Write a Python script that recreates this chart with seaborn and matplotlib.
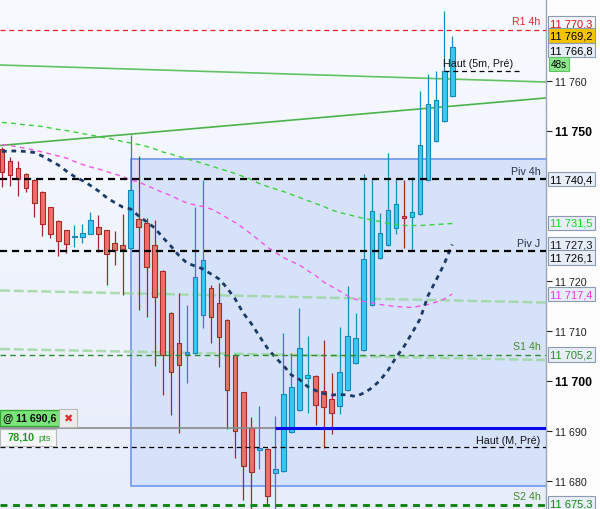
import numpy as np
import pandas as pd
import matplotlib
matplotlib.use("Agg")
import matplotlib.pyplot as plt
import matplotlib.transforms as mtransforms
from matplotlib.patches import Rectangle
from matplotlib.colors import LinearSegmentedColormap
import seaborn as sns

# ---------------- data ----------------
opens = [11746.4, 11744.1, 11742.7, 11741.5, 11740.2, 11737.9, 11734.7, 11732.1, 11730.1, 11728.9,
         11728.9, 11729.5, 11730.7, 11730.1, 11727.7, 11727.1, 11726.7, 11732.5, 11731.7, 11727.3,
         11722.1, 11713.7, 11707.7, 11705.5, 11705.7, 11713.3, 11718.7, 11715.7, 11712.3, 11705.3,
         11697.7, 11690.6, 11686.2, 11686.5, 11681.7, 11682.1, 11689.9, 11694.3, 11700.6, 11701.0,
         11698.1, 11696.5, 11695.1, 11698.3, 11703.7, 11706.3, 11715.3, 11724.7, 11727.3, 11730.7,
         11733.1, 11732.9, 11733.5, 11740.3, 11748.0, 11752.1, 11757.1]
closes = [11741.9, 11741.3, 11740.4, 11738.7, 11735.7, 11731.5, 11729.5, 11728.1, 11727.5, 11729.0,
          11729.7, 11732.1, 11729.5, 11725.5, 11726.3, 11726.5, 11738.3, 11730.9, 11722.9, 11716.9,
          11705.3, 11701.9, 11703.3, 11705.9, 11720.9, 11724.3, 11712.9, 11708.9, 11698.3, 11690.1,
          11683.1, 11681.9, 11686.7, 11677.1, 11682.5, 11697.5, 11698.9, 11706.7, 11701.2, 11695.3,
          11694.9, 11693.7, 11701.7, 11709.1, 11708.7, 11724.5, 11734.1, 11729.7, 11734.3, 11735.5,
          11732.7, 11733.9, 11747.3, 11755.5, 11756.1, 11762.1, 11766.8]
highs = [11746.8, 11744.8, 11744.1, 11741.7, 11740.4, 11738.1, 11734.9, 11732.3, 11730.3, 11731.2,
         11731.4, 11733.9, 11733.3, 11730.3, 11730.1, 11733.5, 11749.2, 11745.1, 11732.7, 11732.2,
         11722.3, 11713.9, 11717.7, 11715.2, 11734.9, 11740.3, 11719.3, 11719.7, 11712.5, 11705.5,
         11697.9, 11692.9, 11695.1, 11686.7, 11693.1, 11709.7, 11705.7, 11714.7, 11709.1, 11701.2,
         11708.2, 11701.7, 11710.9, 11719.1, 11713.7, 11741.5, 11740.7, 11733.7, 11745.7, 11740.7,
         11740.3, 11740.9, 11758.1, 11761.5, 11762.0, 11774.0, 11769.0]
lows = [11738.9, 11739.1, 11737.1, 11737.9, 11732.9, 11729.1, 11728.7, 11725.1, 11725.7, 11726.9,
        11727.7, 11729.4, 11725.9, 11719.3, 11723.3, 11717.3, 11726.5, 11714.3, 11712.9, 11703.1,
        11697.3, 11693.3, 11689.7, 11699.7, 11705.5, 11710.7, 11707.7, 11702.9, 11690.5, 11684.7,
        11676.3, 11674.0, 11682.5, 11675.4, 11674.0, 11681.9, 11689.7, 11694.1, 11693.7, 11691.3,
        11686.7, 11689.5, 11693.5, 11698.1, 11703.5, 11706.1, 11715.1, 11724.5, 11727.1, 11729.5,
        11726.7, 11726.1, 11733.3, 11740.1, 11747.8, 11751.9, 11756.9]

ma_navy = [11745.9, 11746.0, 11746.0, 11745.9, 11745.7, 11745.0, 11744.1, 11743.2, 11742.0, 11740.9,
           11740.1, 11739.1, 11738.0, 11736.7, 11735.7, 11734.8, 11734.4, 11733.0, 11731.8, 11730.6,
           11728.7, 11727.0, 11725.1, 11723.6, 11723.0, 11722.4, 11721.4, 11720.4, 11718.6, 11716.4,
           11713.6, 11711.5, 11709.0, 11706.6, 11704.7, 11703.1, 11701.2, 11700.3, 11698.9, 11698.1,
           11697.5, 11697.2, 11697.3, 11697.2, 11696.9, 11697.6, 11698.6, 11700.1, 11702.1, 11704.7,
           11706.9, 11709.6, 11712.4, 11717.1, 11720.2, 11723.4, 11727.3]
ma_magenta = [11747.3, 11747.1, 11746.8, 11746.5, 11746.2, 11745.8, 11745.4, 11745.0, 11744.6, 11743.9,
              11743.3, 11742.8, 11742.4, 11741.9, 11741.4, 11740.9, 11740.2, 11739.8, 11739.1, 11738.4,
              11737.7, 11737.1, 11736.3, 11735.6, 11735.2, 11734.9, 11734.4, 11733.6, 11732.6, 11731.7,
              11730.6, 11729.4, 11728.1, 11726.8, 11725.7, 11724.7, 11723.9, 11723.2, 11722.1, 11721.1,
              11719.8, 11718.9, 11718.0, 11717.0, 11716.3, 11715.9, 11715.6, 11715.3, 11715.1, 11714.9,
              11714.8, 11714.7, 11715.0, 11715.3, 11715.8, 11716.4, 11717.4]
ma_green = [11751.7, 11751.6, 11751.4, 11751.2, 11751.1, 11750.9, 11750.6, 11750.3, 11750.1, 11749.8,
            11749.5, 11749.2, 11748.9, 11748.6, 11748.3, 11747.9, 11747.6, 11747.3, 11746.9, 11746.4,
            11745.8, 11745.4, 11744.9, 11744.4, 11744.0, 11743.5, 11743.0, 11742.5, 11742.0, 11741.5,
            11740.9, 11740.3, 11739.5, 11738.9, 11738.4, 11737.9, 11737.3, 11736.7, 11736.1, 11735.5,
            11734.9, 11734.2, 11733.7, 11733.3, 11732.9, 11732.5, 11732.2, 11731.9, 11731.5, 11731.3,
            11731.1, 11731.1, 11731.1, 11731.2, 11731.3, 11731.4, 11731.5]

# horizontal levels
r1_4h = 11770.3
piv_4h = 11740.4
piv_j = 11726.1
s1_4h = 11705.2
s2_4h = 11675.3
haut_m_pre = 11686.8
haut_5m_pre = 11762.0
prev_value = 11769.2
last_price = 11766.8
entry_price = 11690.6
entry_index = 34
gain_text = "78,10"
gain_unit = "pts"
countdown = "48s"

# trend lines (value at left edge, value at right edge)
trend_upper = [11763.2, 11759.8]
trend_lower = [11747.1, 11756.6]
pale_upper = [11718.1, 11715.7]
pale_lower = [11706.4, 11704.2]

# highlighted zone
box_start_index = 16
box_top = 11744.5
box_bottom = 11679.1

tick_values = [11680, 11690, 11700, 11710, 11720, 11750, 11760]
bold_ticks = [11700, 11750]


def fmt(v, dec=1):
    s = f"{v:,.{dec}f}"
    return s.replace(",", " ").replace(".", ",")


# ---------------- figure ----------------
sns.set_style("white")
plt.rcParams['font.family'] = ['Liberation Sans', 'DejaVu Sans']

fig = plt.figure(figsize=(6, 5.1), dpi=100, facecolor='#fdfdfe')
ax = fig.add_axes([0, 0, 545.5 / 600, 1])
X0, X1 = -0.25, 67.6
Y0, Y1 = 11674.4, 11776.4

# background gradient
grad = np.linspace(0, 1, 256).reshape(-1, 1)
cmap = LinearSegmentedColormap.from_list('bg', ['#e7edfa', '#f8faff'])
ax.imshow(grad, extent=(X0, X1, Y0, Y1), origin='lower', aspect='auto', cmap=cmap, zorder=0)

# zone box
ax.add_patch(Rectangle((box_start_index, box_bottom), X1 - box_start_index + 2, box_top - box_bottom,
                       facecolor='#d6e2fa', edgecolor='#6d98ee', lw=1.2, zorder=1))

# pale green lines & trend lines
ax.plot([X0, X1], pale_upper, color='#9ad69a', lw=1.8, ls=(0, (4, 1.5)), alpha=0.8, zorder=2)
ax.plot([X0, X1], pale_lower, color='#9ad69a', lw=1.8, ls=(0, (4, 1.5)), alpha=0.8, zorder=2)
ax.plot([X0, X1], trend_upper, color='#62c262', lw=1.2, zorder=2)
ax.plot([X0, X1], trend_lower, color='#4cb34c', lw=1.2, zorder=2)

# candles
idx = np.arange(len(opens))
o = np.array(opens); c = np.array(closes); h = np.array(highs); l = np.array(lows)
up = c >= o
ax.vlines(idx[up], l[up], h[up], color='#1a8cbc', lw=0.9, zorder=5)
ax.vlines(idx[~up], l[~up], h[~up], color='#9e2a2a', lw=0.9, zorder=5)
ax.bar(idx[up], (c - o)[up], bottom=o[up], width=0.58, color='#38c9f2',
       edgecolor='#1787b5', lw=0.8, zorder=6)
ax.bar(idx[~up], (o - c)[~up], bottom=c[~up], width=0.58, color='#e8716b',
       edgecolor='#a52a2a', lw=0.8, zorder=6)

# moving averages via seaborn
df = pd.DataFrame({'i': idx, 'navy': ma_navy, 'mag': ma_magenta, 'grn': ma_green})
sns.lineplot(data=df, x='i', y='grn', ax=ax, color='#3ad13a', linewidth=1.0,
             linestyle=(0, (3.5, 3)), zorder=7)
sns.lineplot(data=df, x='i', y='mag', ax=ax, color='#f455e8', linewidth=1.0,
             linestyle=(0, (3.5, 3)), zorder=7)
sns.lineplot(data=df, x='i', y='navy', ax=ax, color='#1d3a66', linewidth=2.0,
             linestyle=(0, (1.7, 1.7)), zorder=7)

# levels
ax.axhline(r1_4h, color='#e82020', lw=0.9, ls=(0, (4, 3)), zorder=8)
ax.axhline(piv_4h, color='black', lw=1.6, ls=(0, (3.2, 2.2)), zorder=8)
ax.axhline(piv_j, color='black', lw=1.6, ls=(0, (3.2, 2.2)), zorder=8)
ax.axhline(s1_4h, color='#2e8b2e', lw=1.0, ls=(0, (4, 3)), zorder=8)
ax.axhline(s2_4h, color='#078007', lw=2.0, ls=(0, (2.5, 2)), zorder=8)
ax.axhline(haut_m_pre, color='black', lw=0.9, ls=(0, (4, 3)), zorder=8)
ax.hlines(haut_5m_pre, 55, 64.3, color='black', lw=0.9, ls=(0, (4, 3)), zorder=8)

# position line
ax.hlines(entry_price, X0, entry_index, color='#8a8a8a', lw=1.2, zorder=8)
ax.hlines(entry_price, entry_index, X1, color='#0808ee', lw=2.2, zorder=8)

ax.set_xlim(X0, X1)
ax.set_ylim(Y0, Y1)
ax.set_xlabel('')
ax.set_ylabel('')
ax.set_xticks([])

# axis on the right
ax.yaxis.tick_right()
ax.set_yticks(tick_values)
ax.set_yticklabels([fmt(v, 0) for v in tick_values])
ax.tick_params(axis='y', direction='out', length=4, width=0.8, colors='#222222', pad=2.5, labelsize=7.7)
for lab, v in zip(ax.get_yticklabels(), tick_values):
    if v in bold_ticks:
        lab.set_fontweight('bold')
        lab.set_fontsize(8.8)
        lab.set_color('black')
for s in ['top', 'left', 'bottom']:
    ax.spines[s].set_visible(False)
ax.spines['right'].set_color('#9aa5b5')
ax.spines['right'].set_linewidth(1.0)

trans = mtransforms.blended_transform_factory(ax.transAxes, ax.transData)


def tag(val, txt, tc, fc, dy=0, ec='#8c9bb0', dx=5, fs=8.0, weight='normal'):
    return ax.annotate(txt, xy=(1, val), xycoords=trans, xytext=(dx, dy), textcoords='offset pixels',
                       ha='left', va='center', fontsize=fs, color=tc, fontweight=weight,
                       annotation_clip=False, zorder=10,
                       bbox=dict(boxstyle='square,pad=0.2', fc=fc, ec=ec, lw=0.8))


tag(r1_4h, fmt(r1_4h), '#e01010', '#f3f6fb', dy=6.5)
tag(prev_value, fmt(prev_value), 'black', '#f5c400', dy=-0.7)
tag(last_price, fmt(last_price), 'black', '#e6edf8', dy=-3)
tag(last_price, countdown, 'black', '#8fe68f', dy=-16.5, ec='#62c262', fs=7.2)
tag(piv_4h, fmt(piv_4h), 'black', '#e8eef8')
tag(ma_green[-1], fmt(ma_green[-1]), '#1fd41f', '#e8eef8', dy=0.5)
tag(ma_navy[-1], fmt(ma_navy[-1]), '#101828', '#e8eef8', dy=0.5)
tag(piv_j, fmt(piv_j), 'black', '#e8eef8', dy=-7)
tag(ma_magenta[-1], fmt(ma_magenta[-1]), '#ee33ee', '#e8eef8')
tag(s1_4h, fmt(s1_4h), '#2e8b2e', '#e8eef8', dy=0.5)
tag(s2_4h, fmt(s2_4h), '#138a13', '#e8eef8', dy=1.5)


def level_label(val, txt, color, dy):
    ax.annotate(txt, xy=(1, val), xycoords=trans, xytext=(-5, dy), textcoords='offset pixels',
                ha='right', va='center', fontsize=7.7, color=color, zorder=9)


level_label(r1_4h, 'R1 4h', '#e02a2a', 8.5)
level_label(piv_4h, 'Piv 4h', '#26304a', 8)
level_label(piv_j, 'Piv J', '#26304a', 7.5)
level_label(s1_4h, 'S1 4h', '#4a8a2a', 9)
level_label(haut_m_pre, 'Haut (M, Pré)', '#111111', 7)
level_label(s2_4h, 'S2 4h', '#4a8a2a', 8.5)
ax.annotate('Haut (5m, Pré)', xy=(55, haut_5m_pre), xycoords='data', xytext=(-1, 8),
            textcoords='offset pixels', ha='left', va='center', fontsize=7.7, color='#111111', zorder=9)

# order labels on the left
at = ax.annotate(f"@ {fmt(entry_price)}", xy=(0, entry_price), xycoords=trans, xytext=(3, 10),
                 textcoords='offset pixels', ha='left', va='center', fontsize=7.6, fontweight='bold',
                 color='#0a0a0a', zorder=11,
                 bbox=dict(boxstyle='square,pad=0.3', fc='#7ae47a', ec='#36a436', lw=0.9))
ax.annotate("\u2716", xy=(1, 0.5), xycoords=at, xytext=(7, 0), textcoords='offset pixels',
            ha='left', va='center', fontsize=8, color='#e03030', zorder=11,
            bbox=dict(boxstyle='square,pad=0.35', fc='#ececec', ec='#b8b8b8', lw=0.8))
g = ax.annotate(gain_text, xy=(0, entry_price), xycoords=trans, xytext=(8, -9),
                textcoords='offset pixels', ha='left', va='center', fontsize=7.8,
                fontweight='bold', color='#1e9e1e', zorder=12)
p = ax.annotate(gain_unit, xy=(1, 0.5), xycoords=g, xytext=(3, -0.5), textcoords='offset pixels',
                ha='left', va='center', fontsize=6.6, color='#2a9a2a', zorder=12)

# frame around the gain label (computed from the two texts)
fig.canvas.draw()
rend = fig.canvas.get_renderer()
bb = mtransforms.Bbox.union([g.get_window_extent(rend), p.get_window_extent(rend)])
frame = Rectangle((bb.x0 - 8, bb.y0 - 3.5), bb.width + 13, bb.height + 7, transform=None,
                  facecolor='#f4f6f8', edgecolor='#b8b8b8', lw=0.8, zorder=11, clip_on=False)
ax.add_patch(frame)

fig.savefig('out.png', dpi=100, facecolor=fig.get_facecolor())
